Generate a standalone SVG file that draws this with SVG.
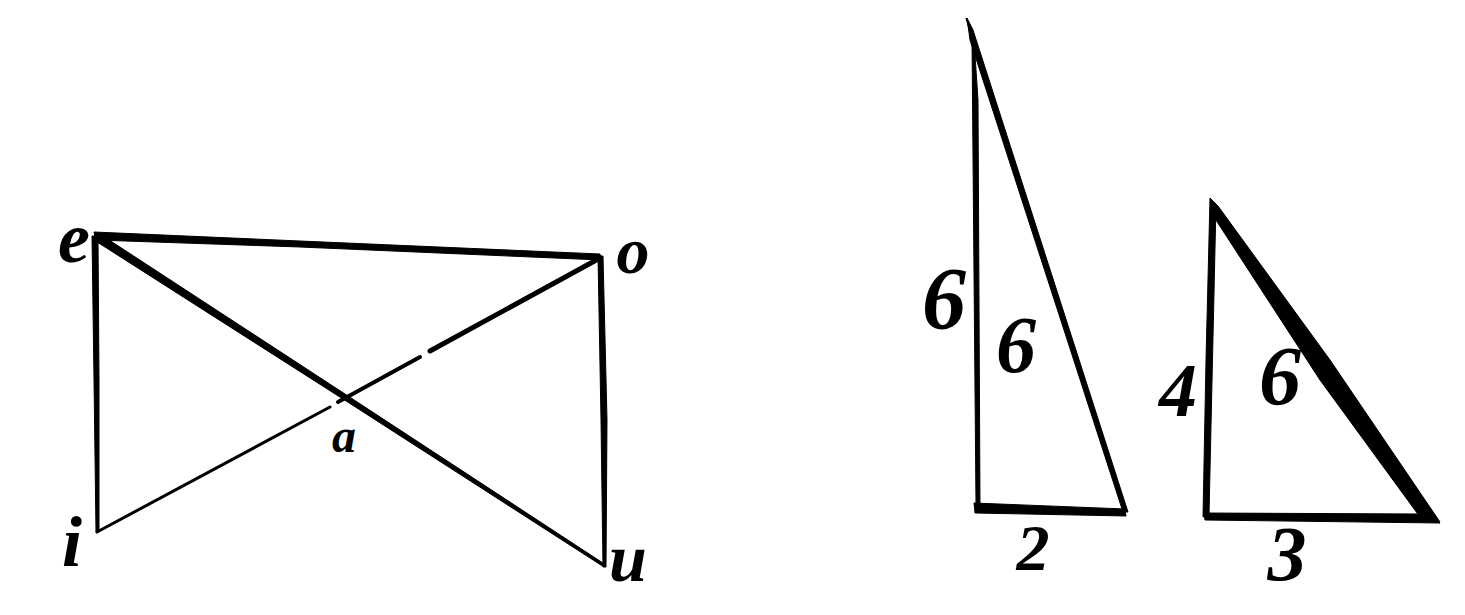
<svg xmlns="http://www.w3.org/2000/svg" width="1465" height="615" viewBox="0 0 1465 615">
<style>
.ln{stroke:#000;fill:none;stroke-linecap:round;stroke-linejoin:round}
.sh{fill:#000;stroke:#000;stroke-width:1;stroke-linejoin:round}
.lt{font-family:"Liberation Serif",serif;font-style:italic;font-weight:bold;fill:#000;text-anchor:middle}
.dg{font-family:"Liberation Serif",serif;font-style:italic;font-weight:bold;fill:#000;text-anchor:middle}
</style>
<rect width="1465" height="615" fill="#fff"/>
<g id="connectors">
  <polygon id="e-o" class="sh" points="94,232 300,241 600,254 601,260 300,247 96,240"/>
  <polygon id="e-i" class="sh" points="92,236 98,236 99,380 99,532 96,532 94,380"/>
  <polygon id="o-u" class="sh" points="598,256 603,256 607,420 606,567 603,567 601,420"/>
  <polygon id="e-u" class="sh" points="95,234 103,236 345,394 606,565 604,567 343,399 94,240"/>
  <path id="i-o-a" class="ln" stroke-width="3" d="M97,532 L330,407"/>
  <path id="i-o-b" class="ln" stroke-width="4" d="M338,402 L420,357"/>
  <path id="i-o-c" class="ln" stroke-width="5" d="M430,351 L600,258"/>
</g>
<g id="triangle-small-base">
  <polygon class="sh" points="966,18 972,40 976,505 980,507 978,100 974,40"/>
  <polygon class="sh" points="967,18 973,30 1128,512 1123,512 970,40"/>
  <polygon class="sh" points="974,503 1125,509 1126,516 975,513"/>
</g>
<g id="triangle-large-base">
  <polygon class="sh" points="1210,198 1216,204 1209,515 1203,517 1206,360"/>
  <polygon class="sh" points="1211,200 1218,206 1330,360 1440,522 1420,517 1320,380 1212,214"/>
  <polygon class="sh" points="1204,513 1420,514 1440,523 1205,520"/>
</g>
<g id="node-e"><text class="lt" x="74" y="262" font-size="72">e</text></g>
<g id="node-o"><text class="lt" x="633" y="273" font-size="66">o</text></g>
<g id="node-i"><text class="lt" x="72" y="566" font-size="72">i</text></g>
<g id="node-u"><text class="lt" x="628" y="581" font-size="68">u</text></g>
<g id="node-a"><text class="lt" x="344" y="452" font-size="48" font-weight="normal">a</text></g>
<g id="label-6-left"><text class="dg" x="944" y="328" font-size="88">6</text></g>
<g id="label-6-inner1"><text class="dg" x="1016" y="372" font-size="80">6</text></g>
<g id="label-2"><text class="dg" x="1033" y="570" font-size="66">2</text></g>
<g id="label-4"><text class="dg" x="1178" y="416" font-size="76">4</text></g>
<g id="label-6-inner2"><text class="dg" x="1280" y="405" font-size="84">6</text></g>
<g id="label-3"><text class="dg" x="1287" y="580" font-size="78">3</text></g>
</svg>
